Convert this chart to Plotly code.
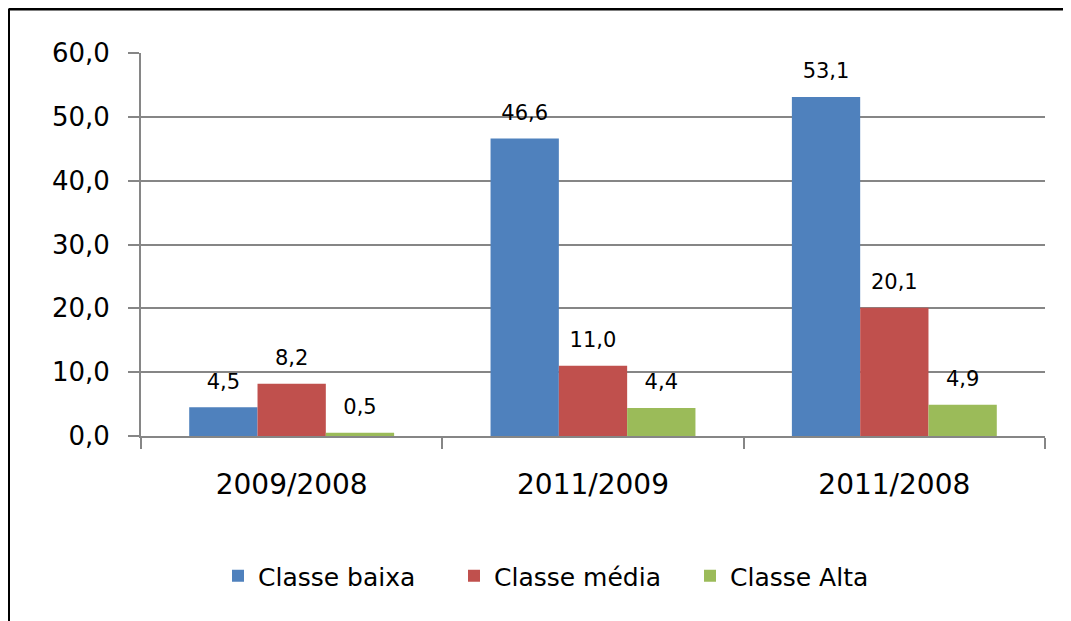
import plotly.graph_objects as go

categories = ["2009/2008", "2011/2009", "2011/2008"]
series_names = ["Classe baixa", "Classe média", "Classe Alta"]
classe_baixa = [4.5, 46.6, 53.1]
classe_media = [8.2, 11.0, 20.1]
classe_alta = [0.5, 4.4, 4.9]
colors = ["#4F81BD", "#C0504D", "#9BBB59"]
y_ticks = [0, 10, 20, 30, 40, 50, 60]

# page has an 8px body margin; figure coordinates are page - 8
W, H = 1063, 613
L, R, T, B = 133, 26, 45, 185
pw, ph = W - L - R, H - T - B

fig = go.Figure()
for name, vals, col in zip(series_names, [classe_baixa, classe_media, classe_alta], colors):
    fig.add_trace(go.Bar(x=categories, y=vals, name=name, marker_color=col,
                         marker_line_width=0, legendgroup=name))
for name, vals in zip(series_names, [classe_baixa, classe_media, classe_alta]):
    fig.add_trace(go.Scatter(x=categories, y=vals, mode="markers+text",
                             text=[f"{v:.1f}".replace(".", ",") for v in vals],
                             textposition="top center", cliponaxis=False,
                             marker=dict(size=20, opacity=0),
                             textfont=dict(family="DejaVu Sans", size=21, color="#000"),
                             showlegend=False, hoverinfo="skip", legendgroup=name))

fig.update_layout(
    width=W, height=H,
    margin=dict(l=L, r=R, t=T, b=B),
    paper_bgcolor="white", plot_bgcolor="white",
    barmode="group", bargap=0.32,
    scattermode="group", scattergap=0.32,
    separators=",.",
    font=dict(family="DejaVu Sans", color="#000"),
    legend=dict(orientation="h", x=(210 - L) / pw, xanchor="left",
                y=-(568 - 428) / ph, yanchor="middle",
                entrywidth=191, entrywidthmode="pixels",
                font=dict(size=25, family="DejaVu Sans"), traceorder="normal"),
    xaxis=dict(tickson="boundaries", ticks="outside", ticklen=11, tickwidth=2,
               tickcolor="#868686", showline=True, linecolor="#868686", linewidth=2,
               tickfont=dict(size=28), ticklabelstandoff=22, showgrid=False),
    yaxis=dict(range=[0, 60], tickvals=y_ticks, tickformat=".1f", ticks="outside",
               ticklen=11, tickwidth=2, tickcolor="#868686", showline=True,
               linecolor="#868686", linewidth=2, gridcolor="#868686", gridwidth=2,
               tickfont=dict(size=26), ticklabelstandoff=13, zeroline=False),
)

# outer frame (left and top edges)
x_left = (0.5 - L) / pw
y_top = 1 + (T - 1) / ph
fig.add_shape(type="line", xref="paper", yref="paper", x0=x_left, x1=(W + 5 - L) / pw,
              y0=y_top, y1=y_top, line=dict(color="black", width=3))
fig.add_shape(type="line", xref="paper", yref="paper", x0=x_left, x1=x_left,
              y0=y_top, y1=-(B + 5) / ph, line=dict(color="black", width=3))

fig.write_html("out.html")
